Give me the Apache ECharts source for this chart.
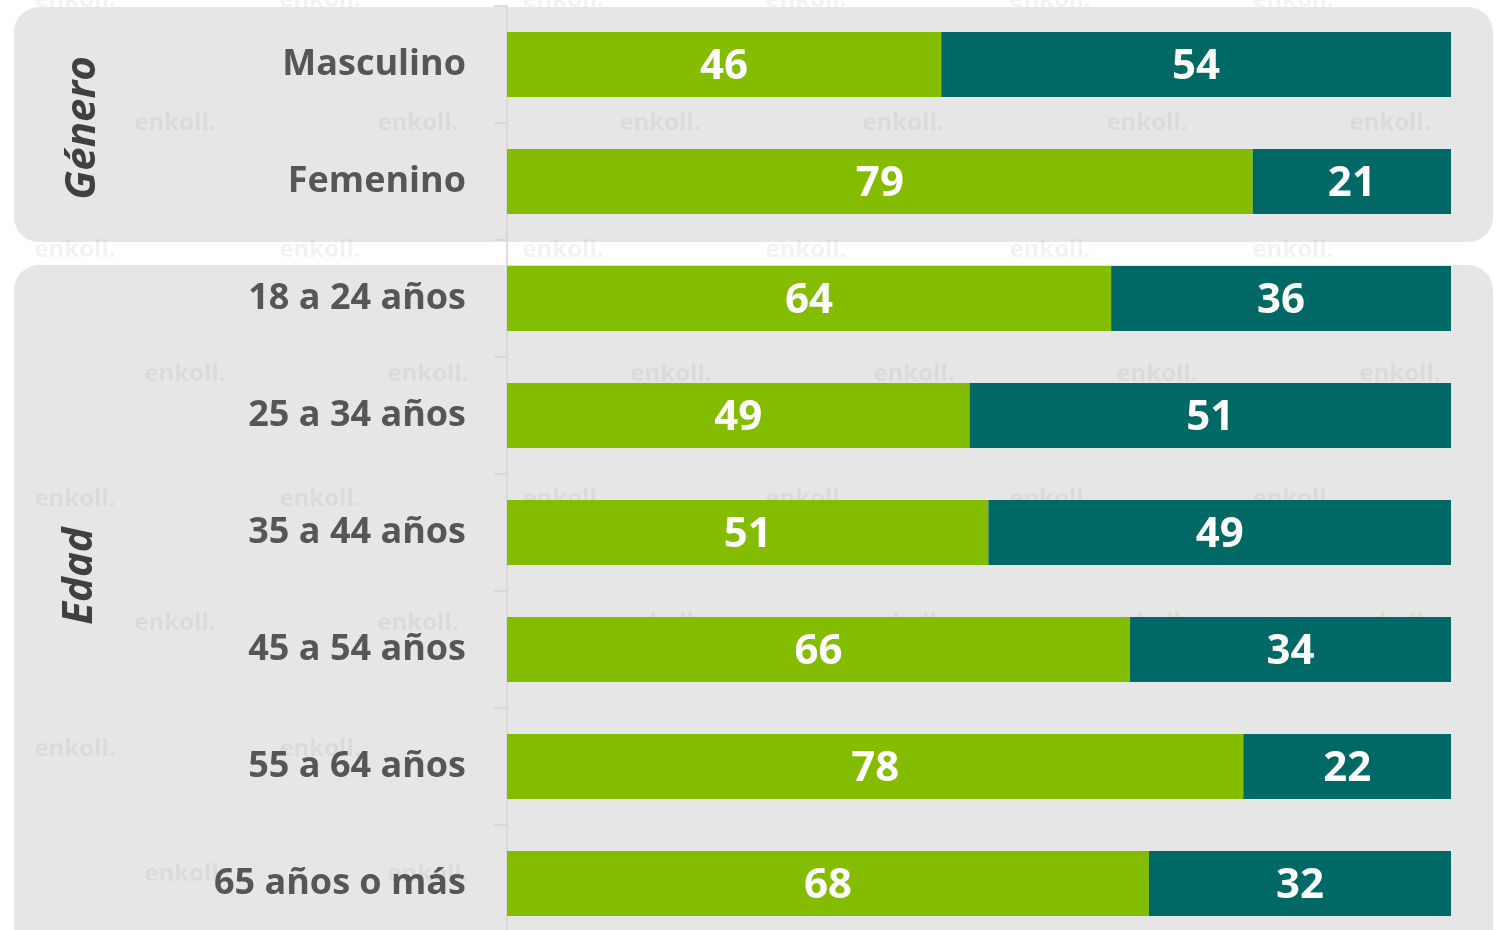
<!DOCTYPE html>
<html>
<head>
<meta charset="utf-8">
<script src="https://cdn.jsdelivr.net/npm/echarts@6/dist/echarts.min.js"></script>
<style>
  html, body { margin: 0; padding: 0; background: #fff; }
  #chart { width: 1501px; height: 930px; }
</style>
</head>
<body>
<div id="chart"></div>
<script>
// categorias (de arriba a abajo) y porcentajes
var categorias = ['Masculino', 'Femenino', '18 a 24 años', '25 a 34 años', '35 a 44 años', '45 a 54 años', '55 a 64 años', '65 años o más'];
var valoresVerde = [46, 79, 64, 49, 51, 66, 78, 68];
var valoresTeal = [54, 21, 36, 51, 49, 34, 22, 32];
var grupos = ['Género', 'Edad'];

var myChart = echarts.init(document.getElementById('chart'));

// marca de agua "enkoll." (decorativa)
var filas = [
  [0, [75, 320, 563, 806, 1050, 1293]],
  [123, [175, 418, 660, 903, 1147, 1390]],
  [250, [75, 320, 563, 806, 1050, 1293]],
  [374, [185, 428, 671, 914, 1157, 1400]],
  [499, [75, 320, 563, 806, 1050, 1293]],
  [623, [175, 418, 660, 903, 1147, 1390]],
  [749, [75, 320, 563, 806, 1050, 1293]],
  [874, [185, 428, 671, 914, 1157, 1400]]
];
var marcas = [];
filas.forEach(function (f) {
  f[1].forEach(function (x) {
    marcas.push({
      type: 'text', x: x, y: f[0], z: -5,
      style: {
        text: 'enkoll.', fill: 'rgba(0,0,0,0.05)',
        font: 'bold 24px "Open Sans"', align: 'center', verticalAlign: 'middle'
      }
    });
  });
});

myChart.setOption({
  backgroundColor: '#ffffff',
  animation: false,
  graphic: [
    { type: 'rect', z: -10, shape: { x: 14, y: 7, width: 1479, height: 235, r: 25 }, style: { fill: '#e6e6e6' } },
    { type: 'rect', z: -10, shape: { x: 14, y: 265, width: 1479, height: 700, r: 25 }, style: { fill: '#e6e6e6' } },
    {
      type: 'text', x: 83, y: 128, rotation: Math.PI / 2, z: 5,
      style: { text: grupos[0], fill: '#404040', font: 'italic bold 42px "Open Sans"', align: 'center', verticalAlign: 'middle' }
    },
    {
      type: 'text', x: 80, y: 576, rotation: Math.PI / 2, z: 5,
      style: { text: grupos[1], fill: '#404040', font: 'italic bold 42px "Open Sans"', align: 'center', verticalAlign: 'middle' }
    }
  ].concat(marcas),
  grid: {
    left: 507,
    right: 50,
    top: 6,
    bottom: -12,
    containLabel: false,
    outerBoundsMode: 'none'
  },
  xAxis: {
    type: 'value',
    min: 0,
    max: 100,
    show: false
  },
  yAxis: {
    type: 'category',
    inverse: true,
    data: categorias,
    axisLine: { show: true, lineStyle: { color: '#d4d4d4', width: 1.5 } },
    axisTick: { show: true, length: 13, lineStyle: { color: '#d4d4d4', width: 1.5 } },
    axisLabel: {
      margin: 41,
      color: '#565656',
      fontSize: 36,
      fontWeight: 'bold',
      fontFamily: 'Open Sans'
    }
  },
  series: [{
    name: 'verde',
    type: 'bar',
    stack: 'total',
    data: valoresVerde,
    barWidth: 65,
    itemStyle: { color: '#84bd00' },
    label: {
      show: true, position: 'inside', offset: [0, 3], color: '#fff',
      fontSize: 42, fontWeight: 'bold', fontFamily: 'Open Sans'
    }
  }, {
    name: 'teal',
    type: 'bar',
    stack: 'total',
    data: valoresTeal,
    barWidth: 65,
    itemStyle: { color: '#006966' },
    label: {
      show: true, position: 'inside', offset: [0, 3], color: '#fff',
      fontSize: 42, fontWeight: 'bold', fontFamily: 'Open Sans'
    }
  }]
});
</script>
</body>
</html>
